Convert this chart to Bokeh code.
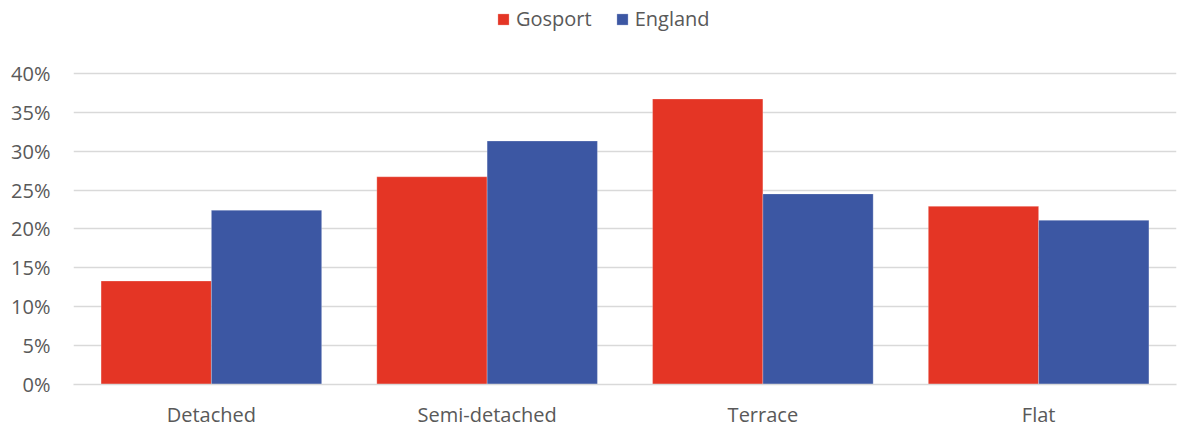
from bokeh.plotting import figure
from bokeh.models import FactorRange, NumeralTickFormatter, Legend, LegendItem, ColumnDataSource, Range1d, FixedTicker
from bokeh.transform import dodge
from bokeh.embed import file_html
from bokeh.resources import INLINE

categories = ["Detached", "Semi-detached", "Terrace", "Flat"]
gosport = [0.133, 0.267, 0.367, 0.229]
england = [0.224, 0.313, 0.245, 0.211]
y_ticks = [0, 0.05, 0.10, 0.15, 0.20, 0.25, 0.30, 0.35, 0.40]

RED = "#E43525"
BLUE = "#3C57A3"
TXT = "#595959"
GRID = "#D9D9D9"
FONT = "Open Sans"

src = ColumnDataSource(dict(cat=categories, g=gosport, e=england))

# frame spans 380px; the 0-40% band takes 312px, the rest holds the legend
y_top = 0.40 * 380 / 312

p = figure(x_range=FactorRange(*categories, range_padding=0), y_range=Range1d(0, y_top),
           width=1178, height=430, output_backend="svg", toolbar_location=None,
           min_border_left=73, min_border_right=2, min_border_top=5, min_border_bottom=45)

rg = p.vbar(x=dodge("cat", -0.2, range=p.x_range), top="g", width=0.4, source=src,
            fill_color=RED, line_color="white", line_alpha=0.35, line_width=0.7)
rb = p.vbar(x=dodge("cat", 0.2, range=p.x_range), top="e", width=0.4, source=src,
            fill_color=BLUE, line_color="white", line_alpha=0.35, line_width=0.7)

p.outline_line_color = None
p.xgrid.grid_line_color = None
p.ygrid.grid_line_color = GRID
p.ygrid.grid_line_width = 1.3
p.yaxis.ticker = FixedTicker(ticks=y_ticks)
p.yaxis.formatter = NumeralTickFormatter(format="0%")
p.yaxis.axis_line_color = None
p.yaxis.major_tick_line_color = None
p.yaxis.minor_tick_line_color = None
p.yaxis.major_tick_out = 0
p.yaxis.major_tick_in = 0
p.yaxis.major_label_standoff = 23
p.yaxis.major_label_text_font = FONT
p.yaxis.major_label_text_font_size = "20px"
p.yaxis.major_label_text_color = TXT

p.xaxis.axis_line_color = GRID
p.xaxis.axis_line_width = 1.3
p.xaxis.major_tick_line_color = None
p.xaxis.major_tick_out = 0
p.xaxis.major_tick_in = 0
p.xaxis.major_label_standoff = 16
p.xaxis.major_label_text_font = FONT
p.xaxis.major_label_text_font_size = "20px"
p.xaxis.major_label_text_color = TXT

legend = Legend(items=[LegendItem(label="Gosport", renderers=[rg]),
                       LegendItem(label="England", renderers=[rb])],
                orientation="horizontal", location=(423, 352),
                glyph_width=14, glyph_height=14, label_standoff=6, spacing=23,
                label_text_font=FONT, label_text_font_size="20px", label_text_color=TXT,
                border_line_color=None, background_fill_alpha=0,
                padding=0, margin=0)
p.add_layout(legend, "center")

open("out.html", "w").write(file_html(p, INLINE))
